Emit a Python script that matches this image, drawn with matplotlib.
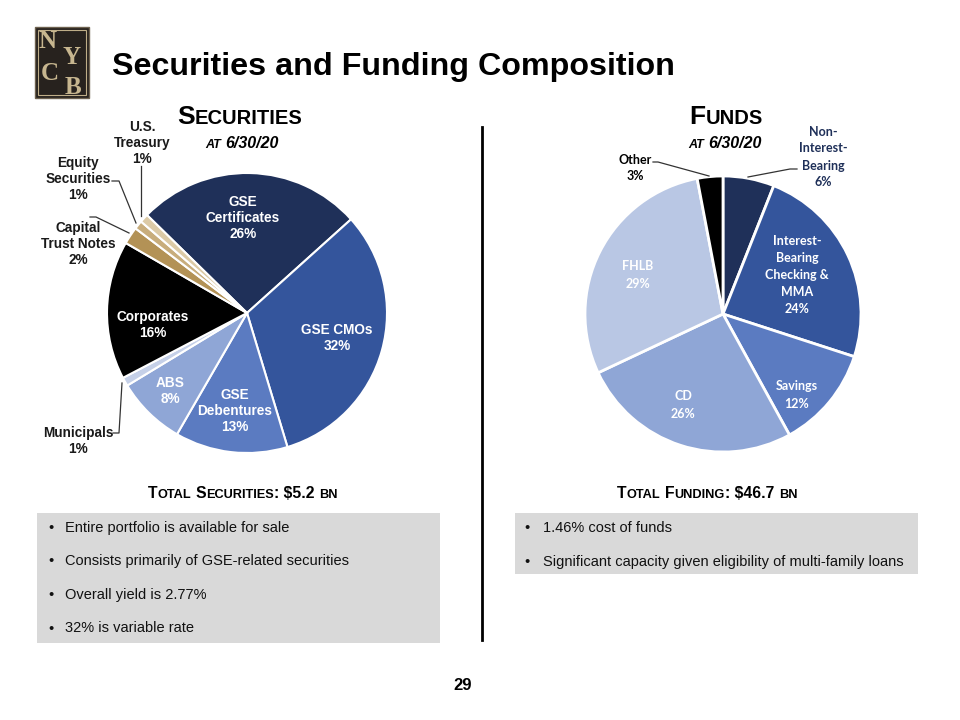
import matplotlib
matplotlib.use("Agg")
import matplotlib.pyplot as plt
from matplotlib.patches import Rectangle

# ---------------- data ----------------
sec_labels = ["GSE Certificates", "GSE CMOs", "GSE Debentures", "ABS", "Municipals",
              "Corporates", "Capital Trust Notes", "Equity Securities", "U.S. Treasury"]
sec_values = [26, 32, 13, 8, 1, 16, 2, 1, 1]
sec_colors = ["#1F3059", "#34559C", "#5B7BC1", "#8FA6D6", "#C5D0E8",
              "#000000", "#B39256", "#C8AD7C", "#DCCAA6"]

fund_labels = ["Non-Interest-Bearing", "Interest-Bearing Checking & MMA", "Savings",
               "CD", "FHLB", "Other"]
fund_values = [6, 24, 12, 26, 29, 3]
fund_colors = ["#1F3059", "#34559C", "#5B7BC1", "#8FA6D6", "#B9C7E4", "#000000"]

sec_bullets = ["Entire portfolio is available for sale",
               "Consists primarily of GSE-related securities",
               "Overall yield is 2.77%",
               "32% is variable rate"]
fund_bullets = ["1.46% cost of funds",
                "Significant capacity given eligibility of multi-family loans"]

ARIAL = "Liberation Sans"
CAL = "Lato"

W, H = 960, 720
fig = plt.figure(figsize=(W / 100, H / 100), dpi=100)
fig.patch.set_facecolor("white")


def pie_axes(cx, cy, r):
    ax = fig.add_axes([(cx - r) / W, 1 - (cy + r) / H, 2 * r / W, 2 * r / H])
    ax.set_zorder(1)
    return ax


# ---------------- pies ----------------
axL = pie_axes(247, 313, 140)
axL.pie(sec_values, colors=sec_colors, startangle=135.6, counterclock=False,
        wedgeprops=dict(edgecolor="white", linewidth=1.5))
axL.set_xlim(-1, 1); axL.set_ylim(-1, 1); axL.axis("off")

axR = pie_axes(723, 314, 138)
axR.pie(fund_values, colors=fund_colors, startangle=90, counterclock=False,
        wedgeprops=dict(edgecolor="white", linewidth=2))
axR.set_xlim(-1, 1); axR.set_ylim(-1, 1); axR.axis("off")

# ---------------- overlay (pixel coords) ----------------
ax0 = fig.add_axes([0, 0, 1, 1])
ax0.set_xlim(0, W); ax0.set_ylim(H, 0); ax0.axis("off")
ax0.set_zorder(2)
ax0.patch.set_alpha(0)

renderer = fig.canvas.get_renderer()


def smallcaps(xc, yb, parts, **kw):
    """parts: list of (text, fontsize); text ' ' means a gap."""
    items = []
    total = 0.0
    for s, size in parts:
        if s == " ":
            items.append((None, size * 0.30 * 100 / 72))
            total += items[-1][1]
            continue
        t = ax0.text(0, yb, s, fontsize=size, va="baseline", ha="left", **kw)
        w = t.get_window_extent(renderer).width
        items.append((t, w))
        total += w
    x = xc - total / 2
    for t, w in items:
        if t is not None:
            t.set_x(x)
        x += w


# logo
ax0.add_patch(Rectangle((35, 27), 54, 71, facecolor="#27221E", edgecolor="#6E6250", lw=1))
ax0.add_patch(Rectangle((38, 30), 48, 65, facecolor="none", edgecolor="#BFAE88", lw=0.8))
for ch, x, y in [("N", 48, 42), ("Y", 72, 57), ("C", 50, 74), ("B", 73, 87)]:
    ax0.text(x, y, ch, fontsize=18, family="Liberation Serif", weight="bold",
             color="#C7B68F", ha="center", va="center")

# title
ax0.text(112, 75, "Securities and Funding Composition", fontsize=23.2, weight="bold",
         family=ARIAL, va="baseline", ha="left", color="black")

# section headers
bold = dict(family=ARIAL, weight="bold", color="black")
smallcaps(240, 124, [("S", 19), ("ECURITIES", 14.5)], **bold)
smallcaps(242, 148, [("AT", 9), (" ", 9), ("6/30/20", 11.5)], style="italic", **bold)
smallcaps(726, 124, [("F", 19), ("UNDS", 14.5)], **bold)
smallcaps(725, 148, [("AT", 9), (" ", 9), ("6/30/20", 11.5)], style="italic", **bold)

# divider
ax0.plot([482, 482], [127, 640], color="black", lw=2)

# left pie labels (inside)
lab = dict(family=ARIAL, weight="bold", fontsize=9.8, color="white",
           ha="center", va="center", linespacing=1.22)
inside_left = {"GSE Certificates": (243, 218, "GSE\nCertificates\n26%"),
               "GSE CMOs": (337, 338, "GSE CMOs\n32%"),
               "GSE Debentures": (235, 411, "GSE\nDebentures\n13%"),
               "ABS": (170, 391, "ABS\n8%"),
               "Corporates": (153, 325, "Corporates\n16%")}
for name in sec_labels:
    if name in inside_left:
        x, y, s = inside_left[name]
        ax0.text(x, y, s, **lab)

# left pie labels (outside) with leaders
out = dict(family=ARIAL, weight="bold", fontsize=9.8, color="#1a1a1a",
           ha="center", va="center", linespacing=1.22)
ax0.text(142, 143, "U.S.\nTreasury\n1%", **out)
ax0.plot([141, 141], [166, 216], color="#333333", lw=0.9)
ax0.text(78, 179, "Equity\nSecurities\n1%", **out)
ax0.plot([112, 119, 136], [181, 181, 223], color="#333333", lw=0.9)
ax0.text(78, 244, "Capital\nTrust Notes\n2%", **out)
ax0.plot([90, 96, 129], [217, 217, 233], color="#333333", lw=0.9)
ax0.text(78, 441, "Municipals\n1%", **out)
ax0.plot([113, 119, 122], [433, 433, 383], color="#333333", lw=0.9)

# right pie labels
labR = dict(family=CAL, weight="bold", fontsize=9.0, color="white",
            ha="center", va="center", linespacing=1.5)
ax0.text(797, 275, "Interest-\nBearing\nChecking &\nMMA\n24%", **labR)
ax0.text(797, 395, "Savings\n12%", **labR)
ax0.text(683, 405, "CD\n26%", **labR)
ax0.text(638, 275, "FHLB\n29%", **labR)
ax0.text(823, 157, "Non-\nInterest-\nBearing\n6%", family=CAL, weight="bold",
         fontsize=9.0, color="#1F3059", ha="center", va="center", linespacing=1.5)
ax0.plot([797, 790, 748], [169, 169, 177], color="#333333", lw=0.9)
ax0.text(635, 168, "Other\n3%", family=CAL, weight="bold", fontsize=9.0,
         color="black", ha="center", va="center", linespacing=1.5)
ax0.plot([653, 658, 709], [162, 162, 176], color="#333333", lw=0.9)

# totals
smallcaps(243, 498, [("T", 11.3), ("OTAL", 9.2), (" ", 11.3), ("S", 11.3), ("ECURITIES", 9.2),
                     (": $5.2", 11.3), (" ", 11.3), ("BN", 9.2)], **bold)
smallcaps(707, 498, [("T", 11.3), ("OTAL", 9.2), (" ", 11.3), ("F", 11.3), ("UNDING", 9.2),
                     (": $46.7", 11.3), (" ", 11.3), ("BN", 9.2)], **bold)

# bullet boxes
ax0.add_patch(Rectangle((37, 513), 403, 130, facecolor="#D9D9D9", edgecolor="none"))
ax0.add_patch(Rectangle((515, 513), 403, 61, facecolor="#D9D9D9", edgecolor="none"))
btxt = dict(family=ARIAL, fontsize=10.5, color="#111111", va="center", ha="left")
for i, s in enumerate(sec_bullets):
    y = 528 + i * 33.5
    ax0.text(48, y, "•", **btxt)
    ax0.text(65, y, s, **btxt)
for i, s in enumerate(fund_bullets):
    y = 528 + i * 34
    ax0.text(524, y, "•", **btxt)
    ax0.text(543, y, s, **btxt)

# page number
ax0.text(463, 685, "29", family=ARIAL, weight="bold", fontsize=12, ha="center",
         va="center", color="black")

fig.savefig("out.png", dpi=100, facecolor="white")
